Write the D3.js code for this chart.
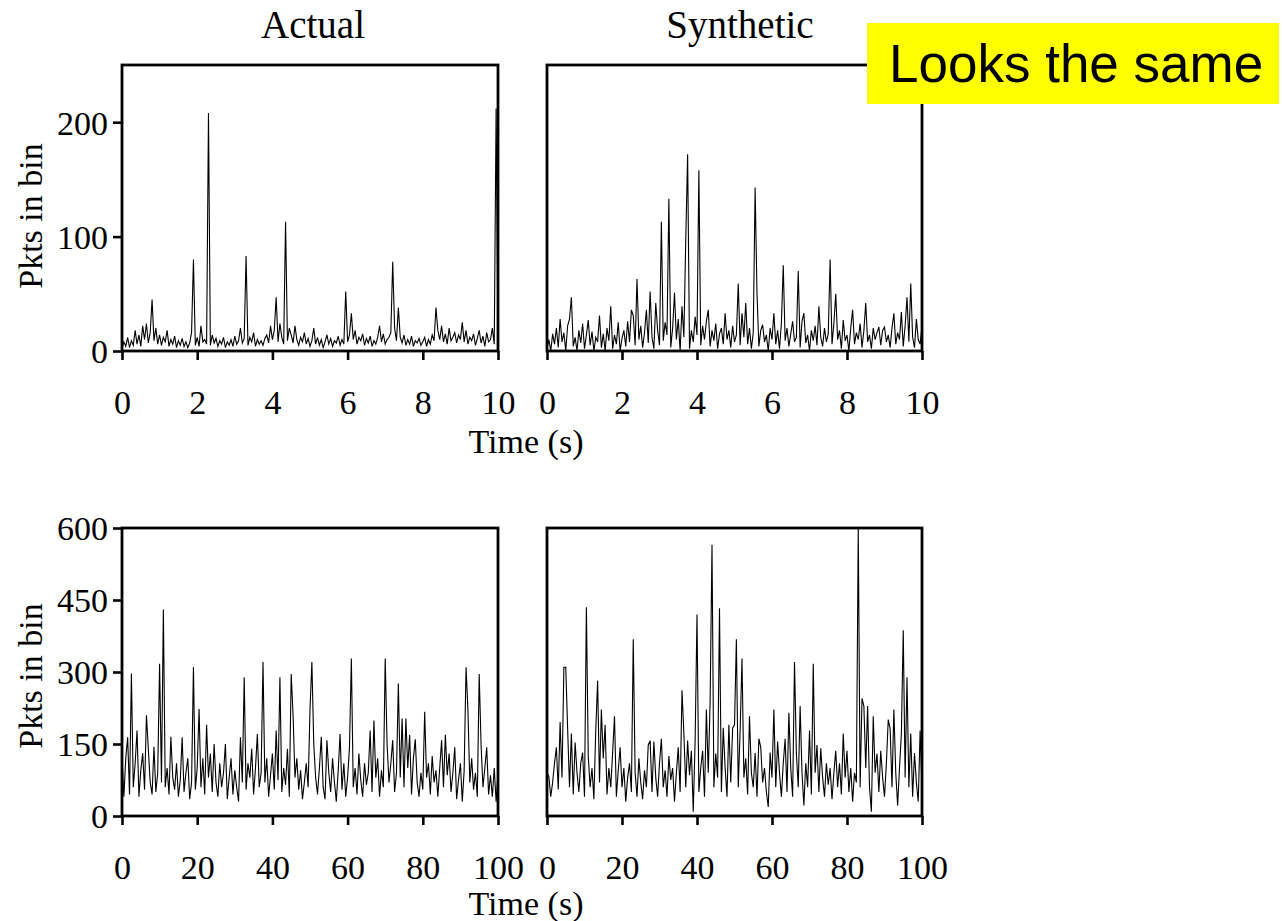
<!DOCTYPE html>
<html><head><meta charset="utf-8">
<script src="https://cdn.jsdelivr.net/npm/d3@7/dist/d3.min.js"></script>
<style>
html,body{margin:0;padding:0;background:#fff;}
svg{display:block;}
</style></head>
<body>
<svg id="c" width="1283" height="921"></svg>
<script>
// ---- data ----
const titles = ["Actual", "Synthetic"];
const yLabel = "Pkts in bin";
const xLabel = "Time (s)";
const note = "Looks the same";

const topXTicks = [0, 2, 4, 6, 8, 10];
const topYTicks = [0, 100, 200];
const botXTicks = [0, 20, 40, 60, 80, 100];
const botYTicks = [0, 150, 300, 450, 600];

const topStep = 0.05;  // seconds per bin (10 s window)
const botStep = 0.5;   // seconds per bin (100 s window)

const actual10 = [
2,8,4,12,3,9,5,18,6,14,4,22,10,24,7,16,45,9,20,6,
14,5,12,8,18,4,10,6,13,3,9,5,11,4,8,3,7,16,80,5,
12,4,22,8,10,6,208,5,14,7,11,4,9,6,12,3,8,5,10,4,
13,6,9,20,7,11,83,5,12,8,16,4,10,6,9,5,11,14,7,22,
10,18,47,8,24,12,6,113,9,20,14,7,22,10,5,12,8,16,6,11,
4,9,20,6,12,5,10,3,8,14,6,11,4,9,7,13,5,10,6,52,
8,14,33,10,18,6,12,9,15,5,11,7,13,4,9,6,12,22,8,15,
6,10,12,16,78,20,9,38,12,7,14,5,10,6,13,4,9,7,11,5,
8,12,4,10,6,14,9,38,18,10,22,8,15,6,20,9,12,16,7,14,
10,25,8,18,6,12,9,15,5,11,18,7,13,4,16,8,10,20,6,212,
5];

const synthetic10 = [
2,10,0,15,6,20,3,28,8,16,0,22,28,47,4,12,0,18,7,24,
2,14,27,5,17,0,12,8,31,3,15,0,20,9,39,2,14,6,25,0,
11,18,4,26,8,36,31,5,63,10,22,3,16,36,7,52,12,2,42,18,
5,113,9,25,14,133,3,20,51,10,28,0,39,12,97,172,2,18,8,30,
14,158,5,22,10,26,36,4,18,9,24,2,15,20,6,33,10,18,3,22,
8,14,59,5,33,12,42,6,20,2,16,143,50,4,18,23,8,14,0,20,
10,33,6,18,2,24,75,9,20,4,15,26,8,12,70,3,26,33,7,14,
0,18,9,22,5,39,12,4,20,8,15,80,6,24,50,10,18,2,27,9,
14,0,20,36,6,16,10,24,3,18,42,8,14,2,20,10,16,21,5,18,
21,8,14,3,20,33,6,16,10,34,4,22,47,8,59,12,3,28,10,6,
22];

const actual100 = [
124,40,120,164,45,297,60,110,178,40,
95,131,55,210,140,70,45,144,50,90,
317,70,430,60,100,45,165,80,55,110,
40,75,164,50,90,120,35,70,310,55,
100,223,60,120,45,190,80,130,50,150,
70,40,110,60,90,150,35,80,120,45,
95,60,30,164,70,289,55,110,80,140,
45,100,171,60,90,321,70,120,40,85,
130,55,178,75,289,50,100,65,140,40,
296,210,80,120,55,95,35,70,110,60,
222,321,150,80,45,100,165,60,35,158,
90,50,120,70,30,95,171,55,110,40,
80,143,328,60,100,45,130,75,40,110,
65,90,178,50,199,80,120,40,95,60,
328,150,70,110,158,50,90,276,80,203,
60,203,100,169,45,120,160,70,40,90,
55,217,80,110,45,125,70,95,40,100,
158,60,169,85,130,50,90,143,35,75,
110,30,95,310,222,70,120,55,90,40,
296,148,60,100,143,45,85,40,100,30,
90];

const synthetic100 = [
90,82,40,70,110,143,55,196,80,310,
310,182,60,172,45,153,90,50,110,132,
40,435,125,60,100,35,178,282,70,222,
120,190,45,100,60,132,208,40,95,143,
60,100,30,80,110,50,368,90,40,120,
70,35,95,60,148,157,50,155,80,40,
110,161,60,95,40,125,75,100,30,90,
143,50,262,172,60,157,85,136,9,157,
420,50,100,136,40,222,90,238,565,60,
130,80,433,50,184,100,40,190,70,183,
190,368,60,178,328,80,120,45,208,90,
60,131,40,161,143,70,100,50,19,132,
80,222,60,155,90,40,110,161,50,215,
100,40,321,130,60,229,90,22,110,60,
178,45,317,90,148,50,141,80,40,110,
65,100,35,90,136,60,110,45,172,80,
136,50,100,30,90,70,600,60,245,229,
100,229,60,9,208,90,130,50,136,80,
40,110,201,182,60,222,90,22,100,172,
387,80,289,60,172,40,131,70,30,178,
60];

// ---- layout ----
const svg = d3.select("#c");
const serif = '"Liberation Serif","Times New Roman",serif';

const panels = [
  {data: actual10, step: topStep, xmax: 10, ymax: 250, xt: topXTicks, yt: topYTicks, x0: 122, x1: 498, y0: 65, y1: 351, showY: true},
  {data: synthetic10, step: topStep, xmax: 10, ymax: 250, xt: topXTicks, yt: topYTicks, x0: 547, x1: 922, y0: 65, y1: 351, showY: false},
  {data: actual100, step: botStep, xmax: 100, ymax: 600, xt: botXTicks, yt: botYTicks, x0: 122, x1: 498, y0: 528, y1: 816, showY: true},
  {data: synthetic100, step: botStep, xmax: 100, ymax: 600, xt: botXTicks, yt: botYTicks, x0: 547, x1: 922, y0: 528, y1: 816, showY: false}
];

panels.forEach(p => {
  const x = d3.scaleLinear().domain([0, p.xmax]).range([p.x0, p.x1]);
  const y = d3.scaleLinear().domain([0, p.ymax]).range([p.y1, p.y0]);
  const g = svg.append("g");

  const line = d3.line().x((d, i) => x(i * p.step)).y(d => y(d));
  g.append("path").datum(p.data)
    .attr("fill", "none").attr("stroke", "#000").attr("stroke-width", 1.1)
    .attr("d", line);

  g.append("rect").attr("x", p.x0).attr("y", p.y0)
    .attr("width", p.x1 - p.x0).attr("height", p.y1 - p.y0)
    .attr("fill", "none").attr("stroke", "#000").attr("stroke-width", 2.8);

  const xa = g.append("g").attr("transform", `translate(0,${p.y1})`)
    .call(d3.axisBottom(x).tickValues(p.xt).tickSize(9).tickFormat(d3.format("d")));
  xa.select(".domain").remove();
  xa.selectAll(".tick line").attr("stroke", "#000").attr("stroke-width", 2.6);
  xa.selectAll(".tick text").attr("y", 63).attr("dy", 0)
    .attr("font-size", 34).attr("fill", "#000").style("font-family", serif);

  if (p.showY) {
    const ya = g.append("g").attr("transform", `translate(${p.x0},0)`)
      .call(d3.axisLeft(y).tickValues(p.yt).tickSize(9).tickFormat(d3.format("d")));
    ya.select(".domain").remove();
    ya.selectAll(".tick line").attr("stroke", "#000").attr("stroke-width", 2.6);
    ya.selectAll(".tick text").attr("x", -14).attr("dy", "0.35em")
      .attr("font-size", 34).attr("fill", "#000").style("font-family", serif);
  }
});

// titles
svg.append("text").attr("x", 313).attr("y", 38).attr("text-anchor", "middle")
  .style("font-family", serif).attr("font-size", 39).text(titles[0]);
svg.append("text").attr("x", 740).attr("y", 38).attr("text-anchor", "middle")
  .style("font-family", serif).attr("font-size", 39).text(titles[1]);

// axis titles
[[216, 453], [676, 915]].forEach(([yc, xb]) => {
  svg.append("text").attr("transform", `translate(42,${yc}) rotate(-90)`)
    .attr("text-anchor", "middle").style("font-family", serif).attr("font-size", 34).text(yLabel);
  svg.append("text").attr("x", 526).attr("y", xb).attr("text-anchor", "middle")
    .style("font-family", serif).attr("font-size", 34).text(xLabel);
});

// yellow note
svg.append("rect").attr("x", 867).attr("y", 23).attr("width", 412).attr("height", 81).attr("fill", "#ffff00");
svg.append("text").attr("x", 889).attr("y", 82)
  .style("font-family", '"Liberation Sans",Arial,sans-serif').attr("font-size", 53).attr("fill", "#000").text(note);
</script>
</body></html>
